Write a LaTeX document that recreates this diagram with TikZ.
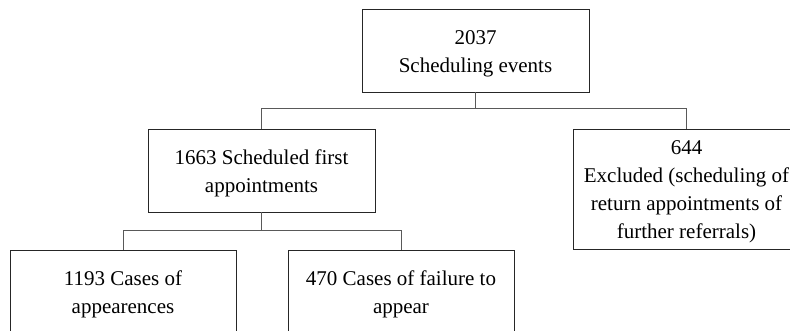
\documentclass[tikz,border=0pt]{standalone}
\usepackage{fontspec}
\setmainfont{Liberation Serif}
\newcommand{\lstrut}{\rule[-6.4pt]{0pt}{28pt}}
\begin{document}
\begin{tikzpicture}[x=1pt,y=-1pt,
  box/.style={draw=black!85, line width=0.9pt, minimum width=227pt,
    minimum height=83pt, inner sep=0pt, align=center,
    font=\fontsize{21}{28}\selectfont},
  conn/.style={draw=black!65, line width=1pt}]
\useasboundingbox (0,0) rectangle (790,330);
\clip (0,0) rectangle (790,330);
\node[box] (top) at (475.5,50.5) {\lstrut 2037\\\lstrut Scheduling events};
\node[box] (first) at (261.5,170.5) {\lstrut 1663 Scheduled first\\\lstrut appointments};
\node[box, minimum height=120pt] (excl) at (686.5,189) {\lstrut 644\\\lstrut Excluded (scheduling of\\\lstrut return appointments of\\\lstrut further referrals)};
\node[box, minimum width=226pt] (appear) at (123,291.5) {\lstrut 1193 Cases of\\\lstrut appearences};
\node[box, minimum width=226pt] (fail) at (401,291.5) {\lstrut 470 Cases of failure to\\\lstrut appear};
\draw[conn] (top.south) -- ++(0,16) coordinate (j1);
\draw[conn] (first.north) |- (j1) -| (excl.north);
\draw[conn] (first.south) -- ++(0,18) coordinate (j2);
\draw[conn] (appear.north) |- (j2) -| (fail.north);
\end{tikzpicture}
\end{document}
